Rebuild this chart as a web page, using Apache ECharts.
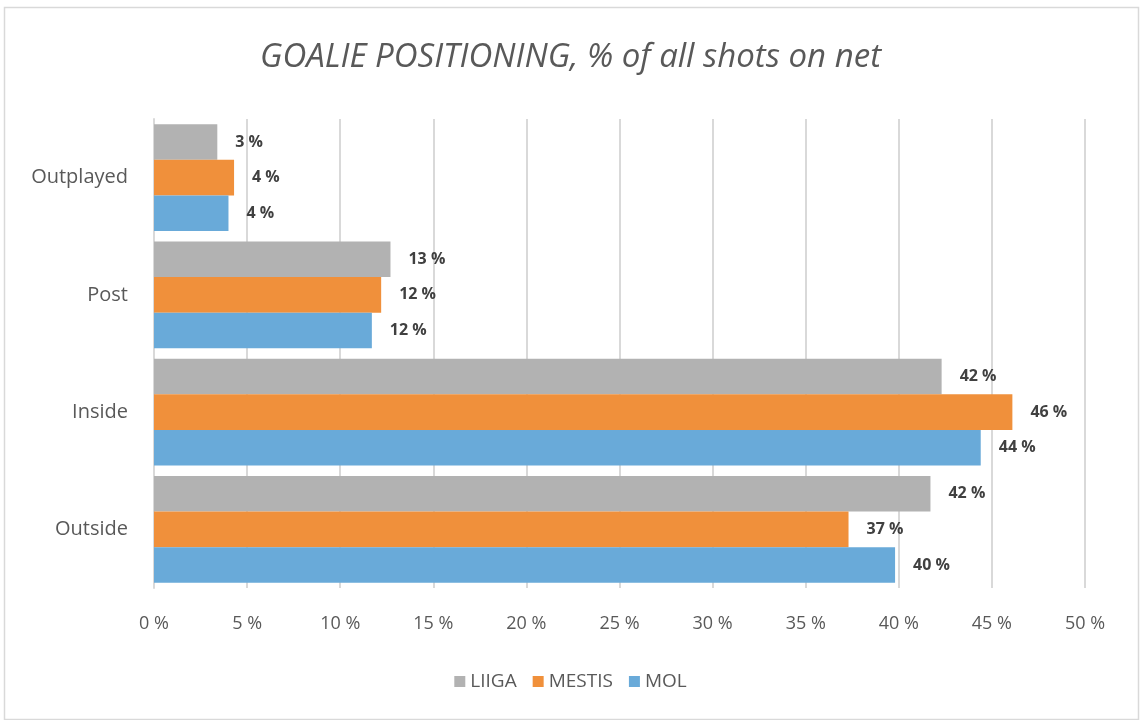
<!DOCTYPE html>
<html>
<head>
<meta charset="utf-8">
<script src="https://cdn.jsdelivr.net/npm/echarts@6/dist/echarts.min.js"></script>
<style>
  html, body { margin: 0; padding: 0; background: #fff; }
  #chart { width: 1141px; height: 720px; }
</style>
</head>
<body>
<div id="chart"></div>
<script>
// categories bottom -> top
const categories = ['Outside', 'Inside', 'Post', 'Outplayed']
const liiga = [41.7, 42.3, 12.7, 3.4]
const mestis = [37.3, 46.1, 12.2, 4.3]
const mol = [39.8, 44.4, 11.7, 4.0]
const seriesNames = ['LIIGA', 'MESTIS', 'MOL']
const seriesColors = ['#b2b2b2', '#f0903b', '#69aad9']

const font = '"Open Sans", sans-serif'
const chart = echarts.init(document.getElementById('chart'))

function barSeries (name, data, color) {
  return {
    name: name,
    type: 'bar',
    data: data,
    barGap: '0%',
    barCategoryGap: '9%',
    itemStyle: { color: color },
    label: {
      show: true,
      position: 'right',
      distance: 18,
      fontFamily: font,
      fontWeight: 'bold',
      fontSize: 16,
      color: '#404040',
      formatter: p => Math.round(p.value) + ' %'
    }
  }
}

const option = {
  backgroundColor: '#fff',
  animation: false,
  title: {
    text: 'GOALIE POSITIONING, % of all shots on net',
    left: 'center',
    top: 36,
    textStyle: { fontFamily: font, fontStyle: 'italic', fontWeight: 'normal', fontSize: 33, color: '#595959' }
  },
  legend: {
    data: seriesNames,
    bottom: 24,
    left: 'center',
    itemWidth: 11,
    itemHeight: 11,
    itemGap: 16,
    icon: 'rect',
    textStyle: { fontFamily: font, fontSize: 19, color: '#595959' }
  },
  grid: { left: 154, right: 56, top: 119, bottom: 132 },
  xAxis: {
    type: 'value',
    min: 0,
    max: 50,
    interval: 5,
    axisLine: { show: false },
    axisTick: { show: false },
    splitLine: { lineStyle: { color: '#d9d9d9', width: 2 } },
    axisLabel: { margin: 27, fontFamily: font, fontSize: 18, color: '#595959', formatter: v => v + ' %' }
  },
  yAxis: {
    type: 'category',
    data: categories,
    axisLine: { lineStyle: { color: '#d9d9d9', width: 2 } },
    axisTick: { show: false },
    axisLabel: { margin: 26, fontFamily: font, fontSize: 20, color: '#595959' }
  },
  graphic: [{
    type: 'rect',
    shape: { x: 4.5, y: 7.5, width: 1134, height: 712 },
    style: { fill: 'none', stroke: '#d9d9d9', lineWidth: 1.5 },
    silent: true
  }],
  series: [
    barSeries('LIIGA', liiga, seriesColors[0]),
    barSeries('MESTIS', mestis, seriesColors[1]),
    barSeries('MOL', mol, seriesColors[2])
  ]
}
chart.setOption(option)
</script>
</body>
</html>
